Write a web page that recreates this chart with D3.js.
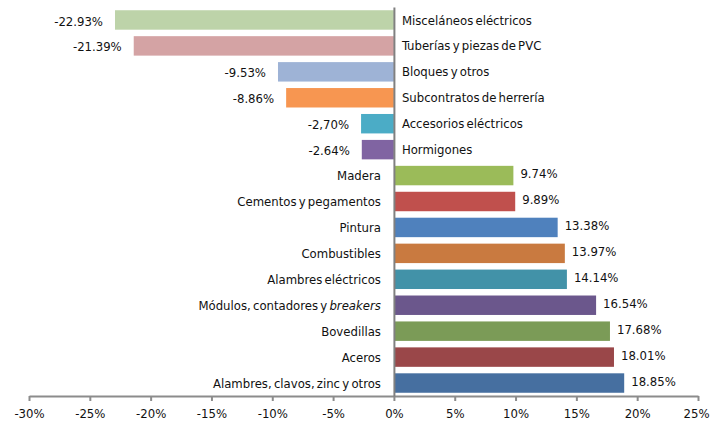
<!DOCTYPE html>
<html><head><meta charset="utf-8">
<script src="https://cdn.jsdelivr.net/npm/d3@7"></script>
<style>
body{margin:0;background:#fff;}
svg text{font-family:"Liberation Sans Narrow","DejaVu Sans Condensed","Arial Narrow",sans-serif;font-size:13px;fill:#111;}
svg text.cat{word-spacing:-1.5px;}
</style></head>
<body><svg id="c" width="710" height="421"></svg>
<script>
const categories = ["Misceláneos eléctricos","Tuberías y piezas de PVC","Bloques y otros","Subcontratos de herrería","Accesorios eléctricos","Hormigones","Madera","Cementos y pegamentos","Pintura","Combustibles","Alambres eléctricos","Módulos, contadores y |breakers","Bovedillas","Aceros","Alambres, clavos, zinc y otros"];
const values = [-22.93,-21.39,-9.53,-8.86,-2.70,-2.64,9.74,9.89,13.38,13.97,14.14,16.54,17.68,18.01,18.85];
const valueLabels = ["-22.93%","-21.39%","-9.53%","-8.86%","-2,70%","-2.64%","9.74%","9.89%","13.38%","13.97%","14.14%","16.54%","17.68%","18.01%","18.85%"];
const colors = ["#BDD3A9","#D4A3A4","#9EB3D6","#F79651","#4BACC6","#8064A2","#9BBB59","#C0504D","#4F81BD","#C97A40","#4292A8","#6B578C","#7B9B57","#9A4749","#466FA0"];
const tickValues = [-30,-25,-20,-15,-10,-5,0,5,10,15,20,25];
const tickLabels = ["-30%","-25%","-20%","-15%","-10%","-5%","0%","5%","10%","15%","20%","25%"];

const svg = d3.select("#c");
const x = d3.scaleLinear().domain([-30,25]).range([29,698]);
const y = d3.scaleBand().domain(categories).range([7,396]).paddingInner(0.25).paddingOuter(0.125);
const x0 = x(0);

const g = svg.append("g");
g.selectAll("rect.bar").data(categories).join("rect")
  .attr("class","bar")
  .attr("x",(d,i)=>values[i]<0? x(values[i]) : x0+1)
  .attr("width",(d,i)=>Math.abs(x(values[i])-x0))
  .attr("y",d=>y(d))
  .attr("height",y.bandwidth())
  .attr("fill",(d,i)=>colors[i]);

// value labels
g.selectAll("text.val").data(categories).join("text")
  .attr("class","val")
  .attr("x",(d,i)=>values[i]<0? x(values[i])-12 : x(values[i])+8)
  .attr("y",(d,i)=>y(d)+y.bandwidth()/2 + (values[i]<0?1:-2))
  .attr("dy","0.35em")
  .attr("text-anchor",(d,i)=>values[i]<0?"end":"start")
  .text((d,i)=>valueLabels[i]);

// category labels
const cl = g.selectAll("text.cat").data(categories).join("text")
  .attr("class","cat")
  .attr("x",(d,i)=>values[i]<0? x0+8 : x0-13)
  .attr("y",d=>y(d)+y.bandwidth()/2)
  .attr("dy","0.35em")
  .attr("text-anchor",(d,i)=>values[i]<0?"start":"end");
cl.each(function(d){
  const parts = d.split("|");
  const t = d3.select(this);
  t.append("tspan").text(parts[0]);
  if(parts[1]) t.append("tspan").attr("font-style","italic").text(parts[1]);
});

// x axis
const xAxis = d3.axisBottom(x).tickValues(tickValues).tickFormat((d,i)=>tickLabels[i]).tickSize(5).tickSizeOuter(0);
const ax = svg.append("g").attr("transform",`translate(0,396)`).call(xAxis);
ax.attr("font-family",null).attr("font-size",null);
ax.select(".domain").attr("stroke","#8C8C8C").attr("stroke-width",2);
ax.selectAll(".tick line").attr("stroke","#8C8C8C").attr("stroke-width",2);
ax.selectAll(".tick text").attr("dy","1.05em")
  .attr("text-anchor",(d,i)=> i===tickValues.length-1 ? "end" : "middle")
  .attr("dx",(d,i)=> i===tickValues.length-1 ? "11" : "0");

// y axis line
const ya = d3.axisLeft(y).tickSize(0).tickFormat("");
const yg = svg.append("g").attr("transform",`translate(${x0},0)`).call(ya);
yg.select(".domain").attr("stroke","#808080").attr("stroke-width",2);
</script></body></html>
